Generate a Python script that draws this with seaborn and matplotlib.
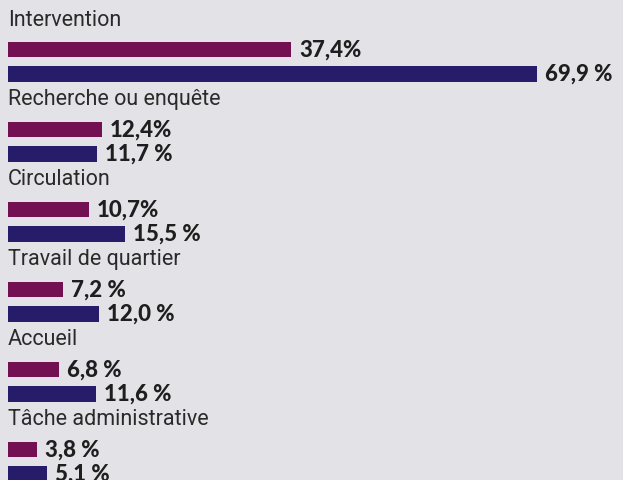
import matplotlib
matplotlib.use("Agg")
import matplotlib.pyplot as plt
import seaborn as sns
import pandas as pd

categories = ["Intervention", "Recherche ou enquête", "Circulation",
              "Travail de quartier", "Accueil", "Tâche administrative"]
series_a = [37.4, 12.4, 10.7, 7.2, 6.8, 3.8]
series_b = [69.9, 11.7, 15.5, 12.0, 11.6, 5.1]
labels_a = ["37,4%", "12,4%", "10,7%", "7,2 %", "6,8 %", "3,8 %"]
labels_b = ["69,9 %", "11,7 %", "15,5 %", "12,0 %", "11,6 %", "5,1 %"]
series_names = ["A", "B"]
colors = {"A": "#731054", "B": "#271c69"}

BG = "#e3e2e7"
W, H = 623, 481
px_per_unit = 7.57
x0 = 8
step = 80.0
label_y0 = 20
bar_a_y0 = 50.5
bar_b_y0 = 75.0

rows = []
for i, cat in enumerate(categories):
    rows.append(dict(cat=cat, series="A", value=series_a[i], ypos=bar_a_y0 + step * i, lab=labels_a[i]))
    rows.append(dict(cat=cat, series="B", value=series_b[i], ypos=bar_b_y0 + step * i, lab=labels_b[i]))
df = pd.DataFrame(rows)

sns.set_theme(style="white")
plt.rcParams["font.family"] = ["Roboto", "DejaVu Sans"]

fig = plt.figure(figsize=(W / 100, H / 100), dpi=100, facecolor=BG)
ax = fig.add_axes([0, 0, 1, 1])
ax.set_facecolor(BG)

sns.barplot(data=df, x="value", y="ypos", hue="series", palette=colors,
            orient="h", native_scale=True, dodge=False, width=0.62,
            legend=False, ax=ax, saturation=1, linewidth=0)

ax.set_xlim(-x0 / px_per_unit, (W - x0) / px_per_unit)
ax.set_ylim(H, 0)
ax.axis("off")

for _, r in df.iterrows():
    ax.text(r["value"] + 8 / px_per_unit, r["ypos"] - 0.5, r["lab"],
            ha="left", va="center", fontsize=16, fontweight="black",
            family=["Lato", "DejaVu Sans"], color="#1e1e1e")

for i, cat in enumerate(categories):
    ax.text(0, label_y0 + step * i, cat, ha="left", va="center",
            fontsize=15.5, color="#2a2a2a")

fig.savefig("out.png", dpi=100, facecolor=BG)
